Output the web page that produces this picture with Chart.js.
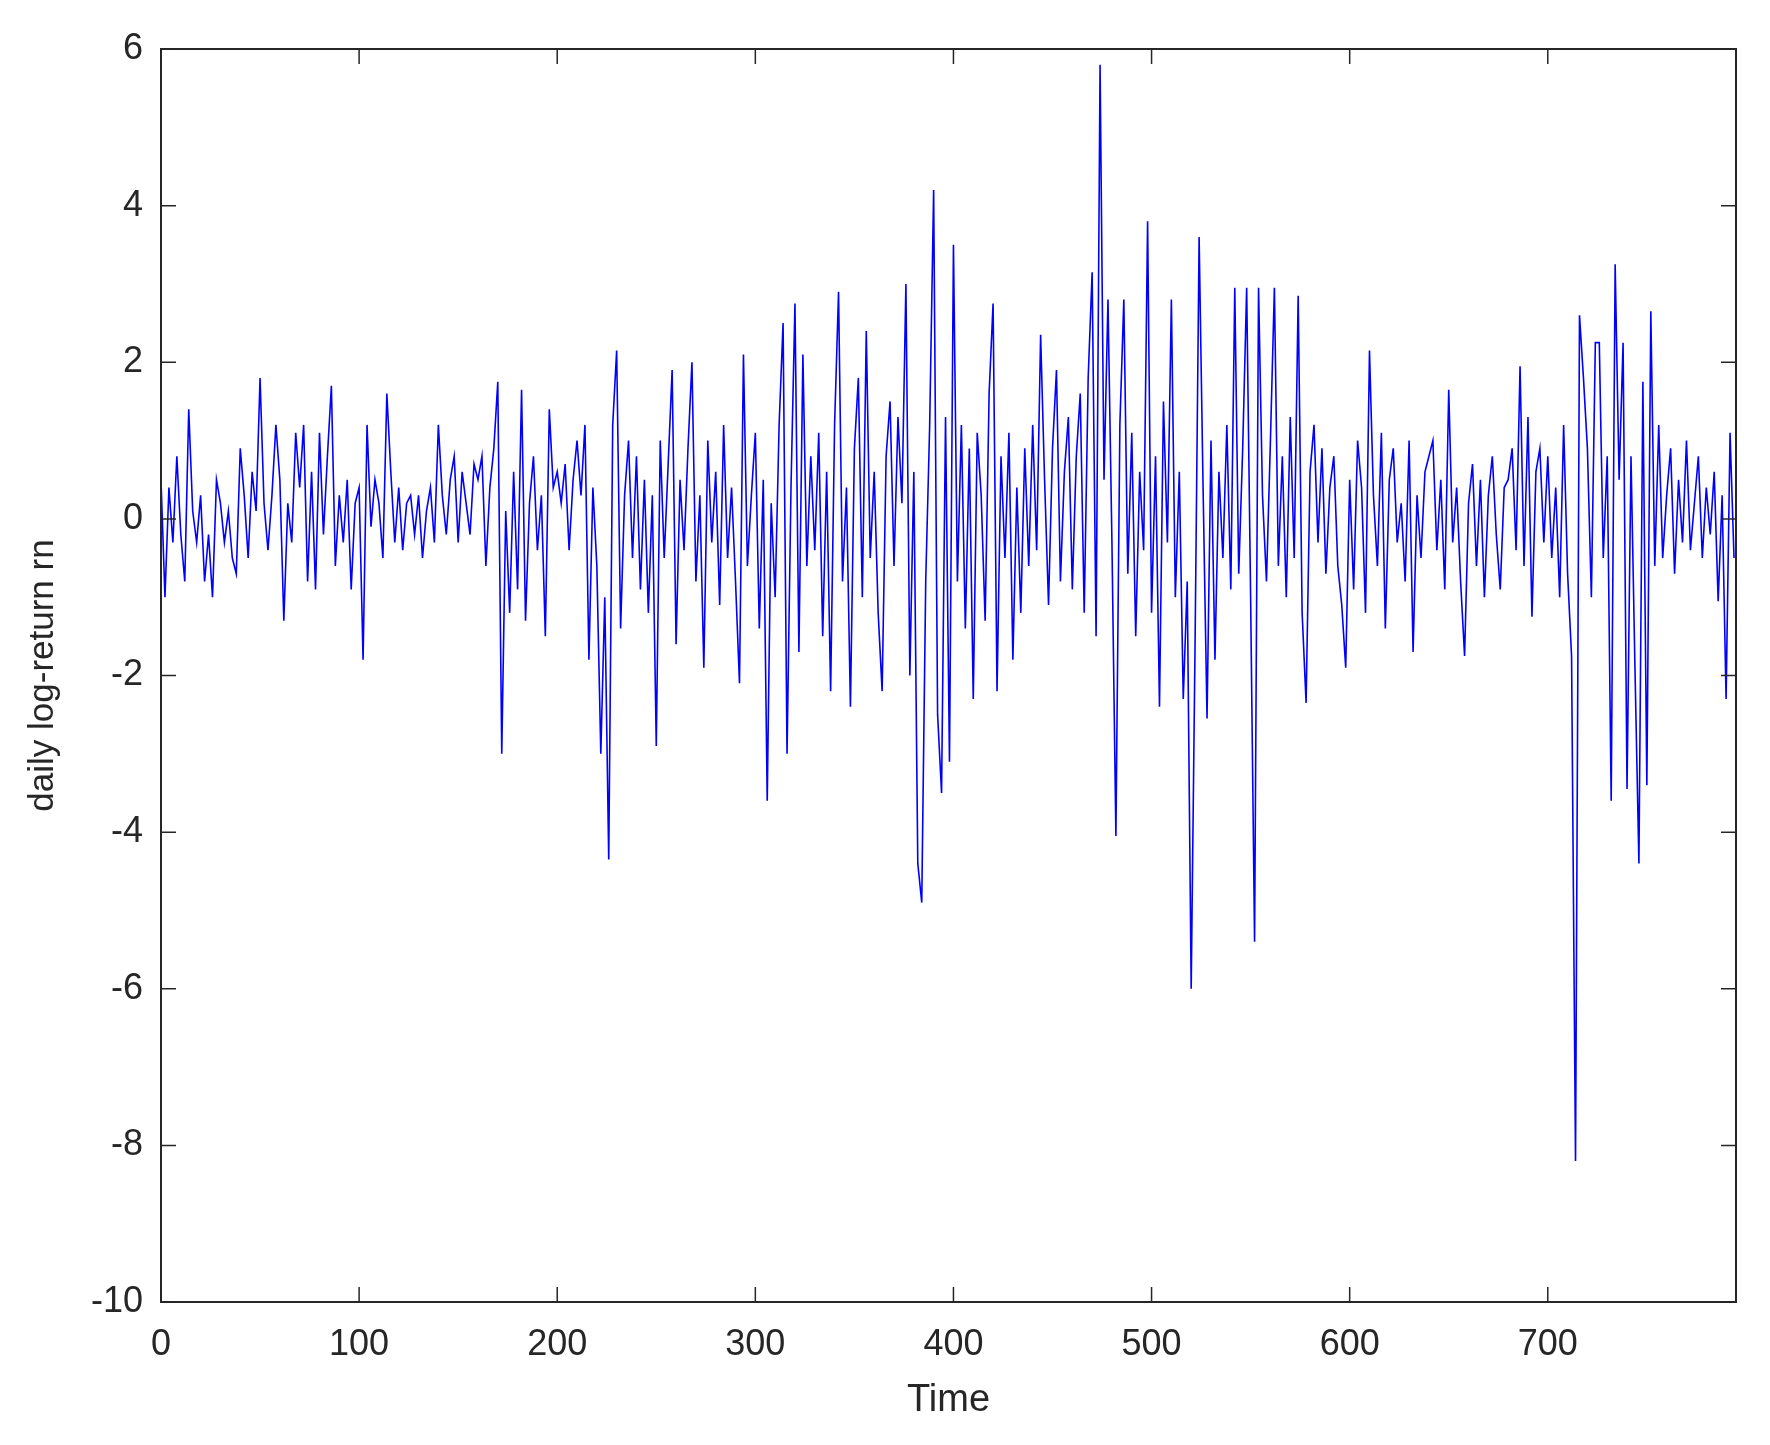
<!DOCTYPE html>
<html><head><meta charset="utf-8">
<script src="https://cdn.jsdelivr.net/npm/chart.js@4"></script>
<style>html,body{margin:0;padding:0;background:#fff}</style>
</head><body>
<canvas id="c" width="1770" height="1445"></canvas>
<script>
const timeStep = 2;
const values = [
0.5,-1.0,0.4,-0.3,0.8,-0.2,-0.8,1.4,0.1,-0.3,0.3,-0.8,-0.2,-1.0,0.5,0.2,-0.3,0.1,-0.5,-0.7,
0.9,0.3,-0.5,0.6,0.1,1.8,0.2,-0.4,0.3,1.2,0.5,-1.3,0.2,-0.3,1.1,0.4,1.2,-0.8,0.6,-0.9,
1.1,-0.2,0.8,1.7,-0.6,0.3,-0.3,0.5,-0.9,0.2,0.4,-1.8,1.2,-0.1,0.5,0.2,-0.5,1.6,0.6,-0.3,
0.4,-0.4,0.2,0.3,-0.2,0.3,-0.5,0.1,0.4,-0.3,1.2,0.3,-0.2,0.5,0.8,-0.3,0.6,0.2,-0.2,0.7,
0.5,0.8,-0.6,0.4,0.9,1.75,-3.0,0.1,-1.2,0.6,-0.9,1.65,-1.3,0.2,0.8,-0.4,0.3,-1.5,1.4,0.4,
0.6,0.2,0.7,-0.4,0.5,1.0,0.3,1.2,-1.8,0.4,-0.6,-3.0,-1.0,-4.35,1.2,2.15,-1.4,0.3,1.0,-0.5,
0.8,-0.9,0.5,-1.2,0.3,-2.9,1.0,-0.5,0.7,1.9,-1.6,0.5,-0.4,0.9,2.0,-0.8,0.3,-1.9,1.0,-0.3,
0.6,-1.1,1.2,-0.5,0.4,-0.8,-2.1,2.1,-0.6,0.3,1.1,-1.4,0.5,-3.6,0.2,-1.0,1.2,2.5,-3.0,0.4,
2.75,-1.7,2.1,-0.6,0.8,-0.4,1.1,-1.5,0.6,-2.2,1.2,2.9,-0.8,0.4,-2.4,0.9,1.8,-1.0,2.4,-0.5,
0.6,-1.2,-2.2,0.8,1.5,-0.6,1.3,0.2,3.0,-2.0,0.6,-4.4,-4.9,-0.8,1.2,4.2,-2.5,-3.5,1.3,-3.1,
3.5,-0.8,1.2,-1.4,0.9,-2.3,1.1,0.3,-1.3,1.6,2.75,-2.2,0.8,-0.5,1.1,-1.8,0.4,-1.2,0.9,-0.6,
1.2,-0.4,2.35,0.5,-1.1,0.9,1.9,-0.8,0.6,1.3,-0.9,0.8,1.6,-1.2,1.8,3.15,-1.5,5.8,0.5,2.8,
-0.3,-4.05,1.2,2.8,-0.7,1.1,-1.5,0.6,-0.4,3.8,-1.2,0.8,-2.4,1.5,-0.3,2.8,-1.0,0.6,-2.3,-0.8,
-6.0,-1.5,3.6,0.4,-2.55,1.0,-1.8,0.6,-0.5,1.2,-0.9,2.95,-0.7,0.9,2.95,-1.0,-5.4,2.95,0.3,-0.8,
1.0,2.95,-0.6,0.8,-1.0,1.3,-0.5,2.85,-1.2,-2.35,0.6,1.2,-0.3,0.9,-0.7,0.4,0.8,-0.6,-1.1,-1.9,
0.5,-0.9,1.0,0.4,-1.2,2.15,0.3,-0.6,1.1,-1.4,0.5,0.9,-0.3,0.2,-0.8,1.0,-1.7,0.3,-0.5,0.6,
0.8,1.0,-0.4,0.5,-0.9,1.65,-0.3,0.4,-0.8,-1.75,0.2,0.7,-0.6,0.5,-1.0,0.3,0.8,-0.2,-0.9,0.4,
0.5,0.9,-0.4,1.95,-0.6,1.3,-1.25,0.6,0.9,-0.3,0.8,-0.5,0.4,-1.0,1.2,-0.7,-1.75,-8.2,2.6,1.8,
0.9,-1.0,2.25,2.25,-0.5,0.8,-3.6,3.25,0.5,2.25,-3.45,0.8,-1.9,-4.4,1.75,-3.4,2.65,-0.6,1.2,-0.5,
0.3,0.9,-0.7,0.5,-0.3,1.0,-0.4,0.2,0.8,-0.5,0.4,-0.2,0.6,-1.05,0.3,-2.3,1.1,-0.5
];
const xTicks = [0,100,200,300,400,500,600,700];
const yTicks = [-10,-8,-6,-4,-2,0,2,4,6];
const points = values.map((v,i)=>({x:i*timeStep, y:v}));

const frame = {
  id:'frame',
  afterDraw(chart){
    const {ctx, chartArea:a, scales:{x,y}} = chart;
    ctx.save();
    ctx.strokeStyle='#262626'; ctx.lineWidth=2;
    ctx.strokeRect(a.left,a.top,a.right-a.left,a.bottom-a.top);
    ctx.lineWidth=1.5;
    const L=15;
    xTicks.forEach(t=>{const p=x.getPixelForValue(t);
      ctx.beginPath();ctx.moveTo(p,a.bottom);ctx.lineTo(p,a.bottom-L);
      ctx.moveTo(p,a.top);ctx.lineTo(p,a.top+L);ctx.stroke();});
    yTicks.forEach(t=>{const p=y.getPixelForValue(t);
      ctx.beginPath();ctx.moveTo(a.left,p);ctx.lineTo(a.left+L,p);
      ctx.moveTo(a.right,p);ctx.lineTo(a.right-L,p);ctx.stroke();});
    ctx.restore();
  }
};
const font = {family:'"Liberation Sans", Arial, sans-serif', size:36};
new Chart(document.getElementById('c'),{
  type:'line',
  data:{datasets:[{data:points,borderColor:'#0000ff',borderWidth:1.6,pointRadius:0,tension:0,fill:false}]},
  options:{
    responsive:false, devicePixelRatio:1, animation:false,
    layout:{padding:{top:49,right:34,left:0,bottom:0}},
    plugins:{legend:{display:false},tooltip:{enabled:false}},
    scales:{
      x:{type:'linear',min:0,max:795,
        afterBuildTicks(s){s.ticks=xTicks.map(v=>({value:v}));},
        afterFit(s){s.height=143;},
        grid:{display:false},border:{display:false},
        ticks:{color:'#262626',font,padding:13,maxRotation:0},
        title:{display:true,text:'Time',color:'#262626',font:{...font,size:38},padding:{top:0,bottom:22}}},
      y:{min:-10,max:6,
        afterBuildTicks(s){s.ticks=yTicks.map(v=>({value:v}));},
        afterFit(s){s.width=161;},
        grid:{display:false},border:{display:false},
        ticks:{color:'#262626',font,padding:10},
        title:{display:true,text:'daily log-return rn',color:'#262626',font:{...font,size:35},padding:{top:22,bottom:0}}}
    }
  },
  plugins:[frame]
});
</script>
</body></html>
